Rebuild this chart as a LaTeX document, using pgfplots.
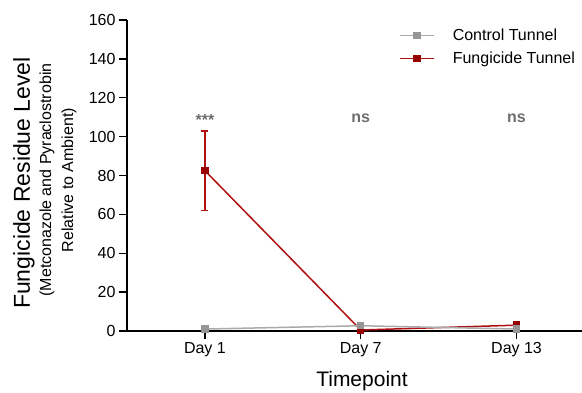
\documentclass[border=0pt]{standalone}
\usepackage{fontspec}
\setmainfont{Liberation Sans}
\usepackage{pgfplots}
\pgfplotsset{compat=1.18}
\definecolor{ctrlline}{RGB}{170,170,170}
\definecolor{ctrlmark}{RGB}{150,150,150}
\definecolor{fungline}{RGB}{175,15,15}
\definecolor{fungmark}{RGB}{150,0,0}
\definecolor{anncol}{RGB}{110,110,110}
\begin{document}
\begin{tikzpicture}
\path[use as bounding box] (-127pt,-62pt) rectangle (455pt,331pt);
\begin{axis}[
  at={(0pt,0pt)}, anchor=south west,
  scale only axis, width=455pt, height=311pt,
  xmin=-0.5, xmax=2.42, ymin=0, ymax=160,
  axis lines=left, axis line style={-, line width=1.3pt, black},
  xtick={0,1,2}, xticklabels={Day 1,Day 7,Day 13},
  ytick={0,20,...,160},
  tick align=outside, major tick length=8pt,
  tick style={line width=1.3pt, black},
  /pgf/number format/assume math mode=true,
  tick label style={font=\fontsize{16}{19}\selectfont},
  clip=false,
  legend style={at={(0.598,0.978)}, anchor=north west, draw=none, fill=none,
    font=\fontsize{16}{19}\selectfont, row sep=6pt, column sep=16pt, inner sep=0pt},
  legend cell align=left,
  legend image code/.code={\draw[#1, mark=none] (0pt,0pt) -- (34pt,0pt);
     \draw[#1, only marks] plot coordinates {(17pt,0pt)};},
]
\addlegendimage{ctrlline, line width=1.5pt, mark=square*, mark size=3pt, mark options={ctrlmark, solid}}
\addlegendentry{Control Tunnel}
\addlegendimage{fungline, line width=1.5pt, mark=square*, mark size=3pt, mark options={fungmark, solid}}
\addlegendentry{Fungicide Tunnel}
\addplot[fungline, line width=1.5pt, mark=square*, mark size=3pt, mark options={fungmark, solid},
  error bars/.cd, y dir=both, y explicit,
  error bar style={fungline, line width=1.5pt},
  error mark options={rotate=90, mark size=3.5pt, line width=1.5pt, fungline}]
  coordinates {(0,82.5) +- (0,20.4) (1,0.5) +- (0,0) (2,3.0) +- (0,0)};
\addplot[ctrlline, line width=1.5pt, mark=square*, mark size=3pt, mark options={ctrlmark, solid}]
  coordinates {(0,1.0) (1,2.7) (2,1.0)};
\node[anchor=base, font=\fontsize{16}{19}\selectfont\bfseries, text=anncol] at (axis cs:0,105.5) {***};
\node[anchor=base, font=\fontsize{16}{19}\selectfont\bfseries, text=anncol] at (axis cs:1,107.5) {ns};
\node[anchor=base, font=\fontsize{16}{19}\selectfont\bfseries, text=anncol] at (axis cs:2,107.5) {ns};
\end{axis}
\node[font=\fontsize{21}{25}\selectfont] at (235pt,-50pt) {Timepoint};
\node[rotate=90, font=\fontsize{23}{27}\selectfont] at (-103pt,148pt) {Fungicide Residue Level};
\node[rotate=90, font=\fontsize{16}{19}\selectfont] at (-80pt,151pt) {(Metconazole and Pyraclostrobin};
\node[rotate=90, font=\fontsize{16}{19}\selectfont] at (-58pt,151pt) {Relative to Ambient)};
\end{tikzpicture}
\end{document}
